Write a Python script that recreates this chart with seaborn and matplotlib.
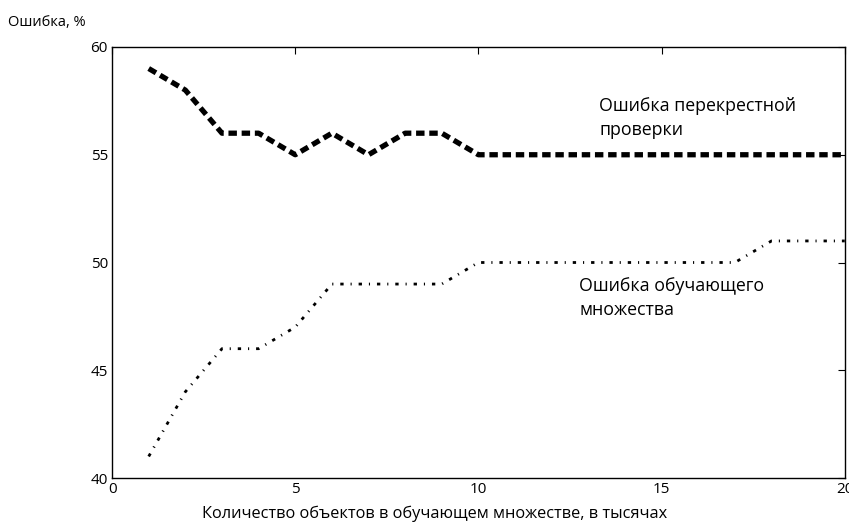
import pandas as pd
import seaborn as sns
import matplotlib.pyplot as plt

# values
sizes = list(range(1, 21))
cv_error = [59, 58, 56, 56, 55, 56, 55, 56, 56, 55, 55, 55, 55, 55, 55, 55, 55, 55, 55, 55]
train_error = [41, 44, 46, 46, 47, 49, 49, 49, 49, 50, 50, 50, 50, 50, 50, 50, 50, 51, 51, 51]

sns.set_style("white")
plt.rcParams['font.family'] = ['Open Sans', 'DejaVu Sans']
plt.rcParams['text.color'] = 'black'

df = pd.DataFrame({'size': sizes, 'cv': cv_error, 'train': train_error})

fig = plt.figure(figsize=(8.49, 5.25), dpi=100)
ax = fig.add_axes([0.132, 0.0895, 0.863, 0.821])

sns.lineplot(data=df, x='size', y='cv', ax=ax, color='black', linewidth=3.8,
             linestyle=(0, (1.6, 0.9)))
sns.lineplot(data=df, x='size', y='train', ax=ax, color='black', linewidth=2,
             linestyle=(0, (1.2, 2.5, 0.4, 2.5)))

ax.set_xlim(0, 20)
ax.set_ylim(40, 60)
ax.set_xticks([0, 5, 10, 15, 20])
ax.set_yticks([40, 45, 50, 55, 60])
ax.tick_params(direction='in', top=True, right=True, length=5, width=0.8,
               labelsize=11, colors='black', pad=3)
for s in ax.spines.values():
    s.set_color('black')
    s.set_linewidth(1)

ax.set_xlabel('Количество объектов в обучающем множестве, в тысячах', fontsize=11.8,
              color='black')
ax.xaxis.set_label_coords(0.44, -0.063)
ax.set_ylabel('')
fig.text(0.01, 0.958, 'Ошибка, %', fontsize=10.5, ha='left', va='center')

ax.text(13.3, 56.7, 'Ошибка перекрестной\nпроверки', fontsize=12.8, ha='left', va='center',
        linespacing=1.45)
ax.text(12.75, 48.35, 'Ошибка обучающего\nмножества', fontsize=12.8, ha='left', va='center',
        linespacing=1.45)

fig.savefig('out.png', dpi=100)
